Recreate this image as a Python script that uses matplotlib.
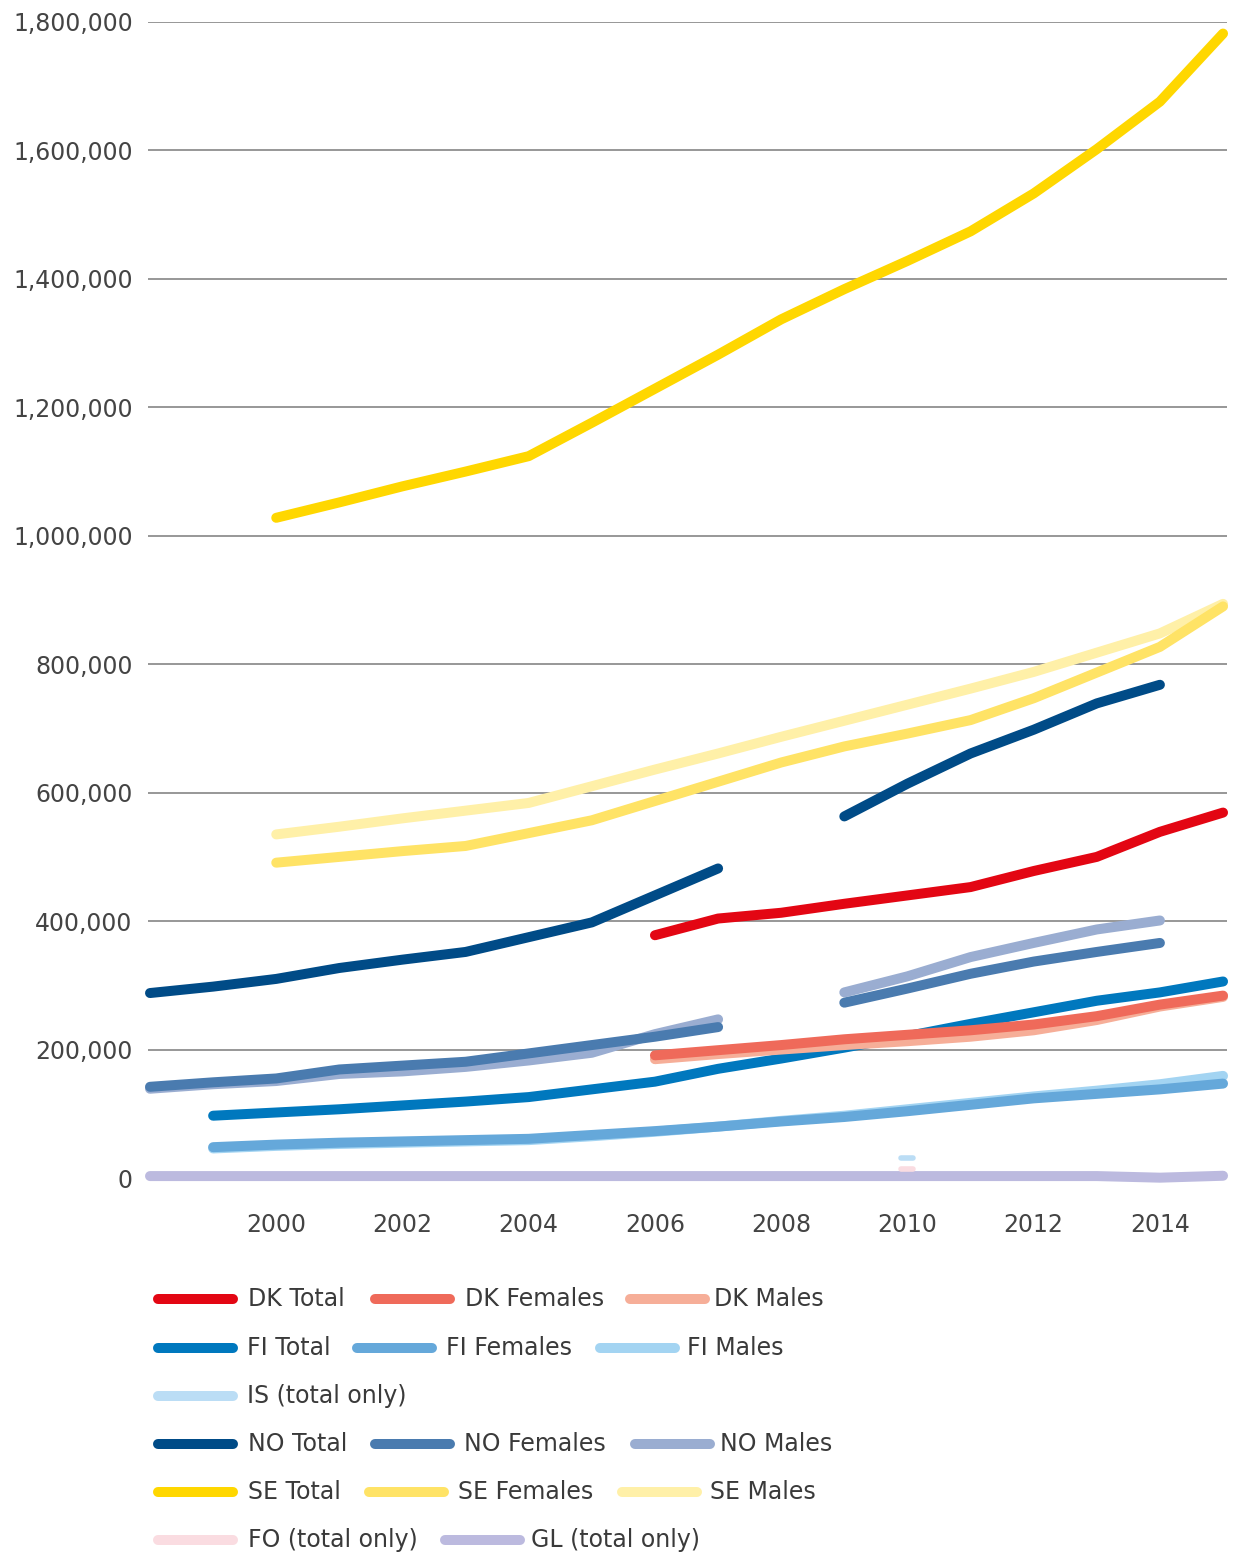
import numpy as np
import matplotlib
matplotlib.use("Agg")
import matplotlib.pyplot as plt
from matplotlib.lines import Line2D
from matplotlib.markers import MarkerStyle
from matplotlib.ticker import FuncFormatter

nan = np.nan
years = list(range(1998, 2016))

dk_total   = [nan]*8 + [378000, 404000, 413000, 427000, 440000, 453000, 478000, 500000, 539000, 569000]
dk_females = [nan]*8 + [191000, 199000, 207000, 216000, 223000, 230000, 239000, 252000, 270000, 284000]
dk_males   = [nan]*8 + [185000, 193000, 200000, 207000, 213000, 220000, 230000, 246000, 267000, 282000]

fi_total   = [nan, 97000, 102000, 107000, 113000, 119000, 126000, 138000, 150000, 170000,
              186000, 203000, 221000, 240000, 258000, 276000, 289000, 306000]
fi_females = [nan, 48000, 52000, 55000, 57000, 59000, 61000, 67000, 73000, 80000,
              88000, 95000, 104000, 114000, 124000, 131000, 138000, 147000]
fi_males   = [nan, 46000, 50000, 53000, 55000, 57000, 59000, 65000, 72000, 80000,
              89000, 97000, 107000, 117000, 127000, 136000, 146000, 159000]

is_total   = [nan]*12 + [31000] + [nan]*5
fo_total   = [nan]*12 + [14000] + [nan]*5

no_total   = [288000, 298000, 310000, 327000, 340000, 352000, 375000, 398000, 440000, 482000,
              nan, 563000, 614000, 661000, 698000, 739000, 768000, nan]
no_females = [142000, 149000, 155000, 169000, 175000, 181000, 194000, 207000, 220000, 235000,
              nan, 273000, 295000, 318000, 337000, 352000, 366000, nan]
no_males   = [139000, 146000, 151000, 162000, 166000, 173000, 183000, 195000, 224000, 247000,
              nan, 289000, 314000, 344000, 366000, 387000, 401000, nan]

se_total   = [nan, nan, 1028000, 1052000, 1077000, 1100000, 1124000, 1176000, 1229000, 1282000,
              1337000, 1384000, 1428000, 1474000, 1533000, 1602000, 1676000, 1782000]
se_females = [nan, nan, 491000, 500000, 509000, 517000, 537000, 557000, 587000, 617000,
              647000, 672000, 692000, 713000, 747000, 787000, 827000, 890000]
se_males   = [nan, nan, 535000, 547000, 560000, 572000, 584000, 610000, 636000, 661000,
              687000, 712000, 737000, 762000, 788000, 818000, 848000, 894000]

gl_total   = [3000]*16 + [500, 3500]

series = [
    ("DK Total", dk_total, "#E30613"),
    ("DK Females", dk_females, "#EF6A5A"),
    ("DK Males", dk_males, "#F6AE98"),
    ("FI Total", fi_total, "#0078BE"),
    ("FI Females", fi_females, "#65A8DA"),
    ("FI Males", fi_males, "#A3D4F2"),
    ("IS (total only)", is_total, "#BBDDF5"),
    ("NO Total", no_total, "#004B87"),
    ("NO Females", no_females, "#4A7BAF"),
    ("NO Males", no_males, "#9AADD1"),
    ("SE Total", se_total, "#FFD700"),
    ("SE Females", se_females, "#FFE366"),
    ("SE Males", se_males, "#FFF0A8"),
    ("FO (total only)", fo_total, "#FADCE1"),
    ("GL (total only)", gl_total, "#BCBADF"),
]

yticks = list(range(0, 1800001, 200000))
xticks = list(range(2000, 2015, 2))

W, H = 1234, 1553
fig = plt.figure(figsize=(W/100, H/100), dpi=100)
FONT = "DejaVu Sans"
TXT = "#444444"

ax = fig.add_axes([148/W, 1 - 1178/H, (1227-148)/W, (1178-22)/H])
ax.set_xlim(1997.968, 2015.063)
ax.set_ylim(0, 1800000)

for s in ax.spines.values():
    s.set_visible(False)
for v in yticks:
    ax.axhline(v, color="#333333" if v == 0 else "#7a7a7a", lw=1.1, zorder=0)

LW = 7.2
n = len(series)
for i, (name, vals, col) in enumerate(series):
    arr = np.array(vals, dtype=float)
    z = 10 + (n - i)
    if np.count_nonzero(~np.isnan(arr)) == 1:
        ax.plot(years, arr, linestyle="none",
                marker=MarkerStyle("_", capstyle="round"), markersize=8,
                markeredgewidth=4, color=col, zorder=z, clip_on=False)
    else:
        ax.plot(years, arr, color=col, lw=LW, solid_capstyle="round",
                solid_joinstyle="round", zorder=z, clip_on=False)

ax.set_yticks(yticks)
ax.yaxis.set_major_formatter(FuncFormatter(lambda v, p: f"{int(v):,}"))
ax.set_xticks(xticks)
ax.tick_params(axis="both", length=0, colors=TXT, labelsize=17)
ax.tick_params(axis="y", pad=11)
ax.tick_params(axis="x", pad=25)
for lab in ax.get_xticklabels() + ax.get_yticklabels():
    lab.set_fontfamily(FONT)

# legend (flow layout, pixel positions)
def fx(x): return x / W
def fy(y): return 1 - y / H

rows = [1299, 1348, 1396, 1444, 1492, 1540]
legend_layout = [
    # (series index, row, handle_start_x, text_x)
    (0, 0, 153, 248), (1, 0, 370, 465), (2, 0, 625, 714),
    (3, 1, 153, 247), (4, 1, 352, 446), (5, 1, 595, 687),
    (6, 2, 153, 247),
    (7, 3, 153, 248), (8, 3, 370, 464), (9, 3, 630, 720),
    (10, 4, 153, 248), (11, 4, 364, 458), (12, 4, 617, 710),
    (13, 5, 153, 248), (14, 5, 440, 531),
]
for idx, r, hx, tx in legend_layout:
    name, _, col = series[idx]
    y = rows[r]
    fig.add_artist(Line2D([fx(hx + 5), fx(hx + 80)], [fy(y), fy(y)], lw=LW, color=col,
                          solid_capstyle="round", transform=fig.transFigure))
    fig.text(fx(tx), fy(y), name, ha="left", va="center", fontsize=17,
             color="#3a3a3a", fontfamily=FONT)

fig.savefig("out.png", dpi=100)
